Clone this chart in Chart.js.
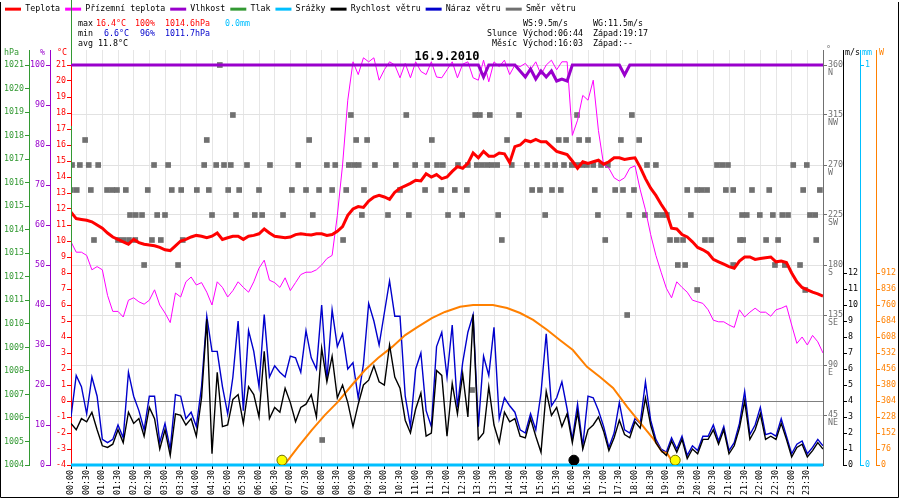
<!DOCTYPE html>
<html>
<head>
<meta charset="utf-8">
<script src="https://cdn.jsdelivr.net/npm/chart.js@4.4.0/dist/chart.umd.min.js"></script>
<style>
  html, body { margin: 0; padding: 0; background: #fff; }
  canvas { display: block; }
</style>
</head>
<body>
<canvas id="meteo" width="900" height="500"></canvas>
<script>
// 10-minute readings, 00:00 .. 24:00 (145 values each)
const temperature = [
  11.8, 11.4, 11.35, 11.3, 11.2, 11.0, 10.8, 10.5, 10.25, 10.1,
  9.95, 9.8, 10.1, 9.9, 9.8, 9.75, 9.7, 9.6, 9.45, 9.4,
  9.7, 10.0, 10.1, 10.25, 10.35, 10.3, 10.2, 10.3, 10.5, 10.1,
  10.2, 10.3, 10.3, 10.1, 10.3, 10.35, 10.45, 10.75, 10.5, 10.3,
  10.25, 10.2, 10.25, 10.4, 10.45, 10.4, 10.38, 10.45, 10.45, 10.35,
  10.4, 10.6, 10.9, 11.6, 12.0, 12.15, 12.1, 12.5, 12.75, 12.85,
  12.75, 12.6, 13.05, 13.3, 13.45, 13.6, 13.8, 13.75, 14.2, 14.0,
  14.15, 13.9, 14.0, 14.35, 14.65, 14.55, 14.85, 15.5, 15.2, 15.6,
  15.3, 15.3, 15.5, 15.45, 14.9, 15.9, 16.0, 16.3, 16.2, 16.35,
  16.2, 16.2, 15.9, 15.6, 15.5, 15.4, 15.0, 14.55, 14.95, 14.85,
  14.95, 15.05, 14.8, 14.95, 15.2, 15.2, 15.1, 15.15, 15.2, 14.6,
  13.9, 13.3, 12.85, 12.3, 11.8, 10.8, 10.75, 10.4, 10.25, 9.95,
  9.6, 9.45, 9.25, 8.85, 8.7, 8.55, 8.4, 8.3, 8.75, 9.0,
  9.0, 8.85, 8.9, 8.95, 9.0, 8.7, 8.75, 8.65, 8.0, 7.45,
  7.1, 6.95, 6.8, 6.7, 6.55
];
const groundTemp = [
  9.95, 9.3, 9.3, 9.1, 8.2, 8.4, 8.2, 6.6, 5.6, 5.6,
  5.25, 6.3, 6.45, 6.2, 6.05, 6.3, 6.95, 6.0, 5.5, 4.9,
  6.75, 6.5, 7.45, 7.75, 7.25, 7.4, 6.8, 6.0, 7.45, 7.1,
  6.5, 6.9, 7.45, 7.1, 6.8, 7.45, 8.3, 8.8, 7.55, 7.4,
  7.1, 7.7, 6.9, 7.4, 7.9, 8.05, 8.05, 8.2, 8.5, 8.9,
  9.1, 11.6, 14.75, 18.8, 21.2, 20.4, 21.45, 21.2, 21.45, 20.05,
  20.7, 21.2, 21.0, 20.2, 21.1, 20.2, 21.2, 20.6, 20.4, 21.2,
  20.25, 20.2, 20.7, 21.2, 20.2, 21.05, 21.2, 20.2, 20.05, 21.3,
  19.95, 21.2, 20.9, 21.3, 20.4, 21.0, 20.9, 21.1, 20.7, 21.2,
  20.4, 21.0, 21.3, 20.7, 21.2, 21.2, 16.6, 17.55, 19.1, 18.8,
  20.05, 16.9, 14.75, 14.55, 13.95, 13.75, 13.95, 14.55, 14.7, 13.2,
  11.95, 10.4, 9.1, 8.05, 7.05, 6.45, 7.45, 7.1, 6.8, 6.3,
  6.2, 6.1, 5.7, 5.05, 4.95, 4.95, 4.75, 4.6, 5.7, 5.25,
  5.55, 5.8, 5.55, 5.55, 5.3, 5.7, 5.8, 5.95, 4.75, 3.6,
  4.0, 3.5, 4.1, 3.7, 3.0
];
const humidity = [
  100, 100, 100, 100, 100, 100, 100, 100, 100, 100,
  100, 100, 100, 100, 100, 100, 100, 100, 100, 100,
  100, 100, 100, 100, 100, 100, 100, 100, 100, 100,
  100, 100, 100, 100, 100, 100, 100, 100, 100, 100,
  100, 100, 100, 100, 100, 100, 100, 100, 100, 100,
  100, 100, 100, 100, 100, 100, 100, 100, 100, 100,
  100, 100, 100, 100, 100, 100, 100, 100, 100, 100,
  100, 100, 100, 100, 100, 100, 100, 100, 100, 97,
  100, 100, 100, 100, 100, 100, 98.5, 97, 99, 96.5,
  98.5, 97, 98.5, 96, 96.5, 96, 100, 100, 100, 100,
  100, 100, 100, 100, 100, 100, 97.5, 100, 100, 100,
  100, 100, 100, 100, 100, 100, 100, 100, 100, 100,
  100, 100, 100, 100, 100, 100, 100, 100, 100, 100,
  100, 100, 100, 100, 100, 100, 100, 100, 100, 100,
  100, 100, 100, 100, 100
];
const windSpeed = [
  2.6, 2.2, 2.9, 2.7, 3.3, 2.2, 1.2, 1.1, 1.3, 2.2,
  1.4, 3.3, 2.6, 2.9, 1.8, 3.6, 2.9, 1.0, 2.2, 0.6,
  3.2, 3.1, 2.5, 2.9, 1.8, 4.2, 9.1, 0.7, 5.8, 2.4,
  2.5, 4.1, 4.4, 2.6, 4.9, 4.4, 3.0, 7.1, 2.9, 3.6,
  3.3, 4.8, 3.9, 2.7, 3.6, 3.8, 4.4, 3.0, 7.3, 5.2,
  6.8, 4.2, 5.0, 3.9, 2.4, 3.8, 5.0, 5.3, 6.2, 5.2,
  5.0, 7.5, 5.5, 4.8, 2.8, 2.0, 3.5, 4.5, 1.8, 2.0,
  5.9, 5.6, 1.8, 5.1, 3.2, 5.7, 3.0, 9.4, 1.6, 2.0,
  4.9, 2.5, 1.4, 3.3, 2.7, 2.9, 1.8, 1.7, 2.9, 1.8,
  0.8, 4.6, 3.1, 3.6, 2.4, 3.2, 1.4, 3.3, 1.0, 2.2,
  2.5, 3.0, 2.1, 0.9, 1.7, 2.8, 1.9, 1.7, 2.7, 2.3,
  4.2, 2.5, 1.4, 0.9, 0.6, 1.5, 0.8, 1.6, 0.4, 1.0,
  0.7, 1.6, 1.6, 2.2, 1.3, 2.2, 0.7, 1.2, 2.3, 4.0,
  1.6, 2.2, 3.2, 1.6, 1.8, 1.6, 2.6, 1.6, 0.5, 1.1,
  1.3, 0.5, 0.9, 1.4, 1.0
];
const windGust = [
  3.0, 5.6, 4.9, 3.2, 5.5, 4.3, 1.6, 1.4, 1.6, 2.5,
  1.7, 5.8, 4.3, 3.4, 2.2, 4.3, 4.3, 1.4, 2.6, 1.0,
  4.4, 4.3, 2.9, 3.3, 2.4, 4.9, 9.3, 7.1, 7.1, 4.9,
  3.2, 5.5, 9.0, 3.4, 8.4, 7.1, 4.9, 9.4, 5.5, 6.2,
  5.8, 5.5, 6.8, 6.7, 5.8, 8.4, 6.7, 6.0, 10.0, 5.3,
  9.7, 7.4, 8.2, 6.0, 6.4, 4.2, 6.3, 10.1, 9.0, 7.5,
  9.5, 11.5, 9.3, 9.3, 4.3, 2.4, 6.0, 7.0, 3.4, 2.4,
  7.4, 8.3, 5.5, 8.75, 3.6, 6.4, 8.3, 9.4, 2.4, 6.8,
  5.6, 8.6, 2.9, 4.2, 3.7, 3.3, 2.2, 2.0, 3.2, 2.2,
  4.5, 8.2, 3.7, 4.2, 5.2, 3.5, 1.6, 3.8, 1.2, 4.3,
  4.2, 3.4, 2.4, 1.1, 2.0, 3.9, 2.2, 2.0, 2.9, 2.6,
  5.2, 2.8, 1.6, 1.0, 0.8, 1.7, 1.0, 1.8, 0.6, 1.2,
  0.9, 1.8, 1.8, 2.5, 1.5, 2.4, 0.9, 1.4, 2.6, 4.6,
  1.9, 2.5, 3.6, 1.9, 2.0, 1.8, 2.9, 1.8, 0.7, 1.3,
  1.5, 0.7, 1.1, 1.6, 1.2
];

// solar radiation (W), minutes after midnight
const radMinutes = [404, 410, 435, 461, 486, 511, 538, 563, 588, 615, 640, 664, 691, 716, 745, 770,
  808, 835, 860, 885, 912, 936, 961, 988, 1013, 1038, 1065, 1090, 1114, 1132, 1141, 1153, 1157];
const radiation = [0, 5, 86, 166, 237, 300, 380, 451, 508, 561, 617, 656, 698, 727, 752, 760,
  760, 746, 722, 689, 641, 594, 546, 466, 418, 366, 276, 200, 128, 62, 57, 10, 0];

// rain (mm) - nothing fell
const rainMinutes = [0, 1440];
const rain = [0, 0];

// pressure - no readings drawn in the reference
const pressureMinutes = [];
const pressure = [];

// wind direction readings, grouped by direction (degrees) -> minutes
const dirDegrees = [360, 315, 292.5, 270, 247.5, 225, 202.5, 180, 157.5, 135, 67.5, 22.5];
const dirMinutes = [
  [285],
  [310, 536, 642, 774, 783, 802, 858, 969, 1074],
  [27, 260, 456, 546, 567, 691, 835, 934, 948, 973, 990, 1053, 1088],
  [2, 17, 34, 52, 159, 186, 255, 278, 293, 306, 337, 381, 435, 490, 506, 532, 542, 551, 582, 622,
   659, 682, 701, 712, 741, 760, 777, 787, 797, 806, 816, 844, 873, 892, 912, 927, 944, 959, 969,
   979, 988, 1000, 1015, 1028, 1103, 1120, 1237, 1247, 1258, 1383, 1409],
  [0, 11, 38, 69, 79, 88, 105, 147, 193, 211, 241, 264, 301, 322, 360, 423, 450, 475, 500, 527,
   561, 630, 678, 709, 735, 758, 883, 898, 921, 938, 1003, 1042, 1057, 1078, 1180, 1199, 1208,
   1218, 1254, 1268, 1304, 1337, 1402, 1434],
  [113, 124, 136, 165, 180, 270, 316, 352, 366, 406, 463, 557, 607, 647, 722, 749, 818, 908, 1009,
   1069, 1099, 1122, 1132, 1141, 1187, 1285, 1294, 1319, 1344, 1362, 1373, 1415, 1425],
  [44, 90, 100, 111, 123, 155, 172, 214, 521, 825, 1023, 1147, 1160, 1172, 1214, 1226, 1281, 1287,
   1331, 1354, 1427],
  [140, 205, 1162, 1176, 1268, 1348, 1367, 1396],
  [1199, 1406],
  [1065],
  [768],
  [481]
];

// sunrise / sunset and moonrise
const sunMinutes = [404, 1157];
const moonMinutes = [963];

// tick labels
const timeLabels = ['00:00', '00:30', '01:00', '01:30', '02:00', '02:30', '03:00', '03:30', '04:00', '04:30',
  '05:00', '05:30', '06:00', '06:30', '07:00', '07:30', '08:00', '08:30', '09:00', '09:30',
  '10:00', '10:30', '11:00', '11:30', '12:00', '12:30', '13:00', '13:30', '14:00', '14:30',
  '15:00', '15:30', '16:00', '16:30', '17:00', '17:30', '18:00', '18:30', '19:00', '19:30',
  '20:00', '20:30', '21:00', '21:30', '22:00', '22:30', '23:00', '23:30'];
const tempTicks = [-4, -3, -2, -1, 0, 1, 2, 3, 4, 5, 6, 7, 8, 9, 10, 11, 12, 13, 14, 15, 16, 17, 18, 19, 20, 21];
const humTicks = [0, 10, 20, 30, 40, 50, 60, 70, 80, 90, 100];
const pressTicks = [1004, 1005, 1006, 1007, 1008, 1009, 1010, 1011, 1012, 1013, 1014, 1015, 1016, 1017, 1018, 1019, 1020, 1021];
const dirTicks = [45, 90, 135, 180, 225, 270, 315, 360];
const dirNames = ['NE', 'E', 'SE', 'S', 'SW', 'W', 'NW', 'N'];
const windTicks = [0, 1, 2, 3, 4, 5, 6, 7, 8, 9, 10, 11, 12];
const rainTicks = [0, 1];
const radTicks = [0, 76, 152, 228, 304, 380, 456, 532, 608, 684, 760, 836, 912];

const RED = '#ff0000', MAGENTA = '#ff00ff', PURPLE = '#9900cc', GREEN = '#339933';
const CYAN = '#00bfff', BLUE = '#0000cc', ORANGE = '#ff8000', GRAY = '#707070';
const FONT = '"DejaVu Sans Mono", "Liberation Mono", monospace';
const FS = 8.3;

Chart.defaults.font.family = FONT;
Chart.defaults.font.size = FS;
Chart.defaults.color = '#000';

const slots = temperature.map((_, i) => i * 10);
function toPoints(minutes, values) {
  return values.map((v, i) => ({ x: minutes[i], y: v }));
}
const dirPoints = [];
dirDegrees.forEach((deg, r) => dirMinutes[r].forEach(m => dirPoints.push({ x: m, y: deg })));
const markerLevel = 0.3; // m/s, just above the time axis

function yAxis(o) {
  return {
    type: 'linear',
    position: o.position,
    weight: o.weight,
    min: o.min,
    max: o.max,
    afterBuildTicks: scale => { scale.ticks = o.ticks.map(v => ({ value: v })); },
    afterFit: scale => { scale.width = o.width; },
    border: { color: o.color },
    grid: {
      drawOnChartArea: !!o.grid,
      color: o.grid || o.color,
      tickColor: o.color,
      tickLength: 4
    },
    ticks: {
      color: o.color,
      padding: 1,
      font: o.font,
      callback: o.format || (v => String(v))
    }
  };
}

// stats and captions printed above the plot
const statRuns = [
  [78, 24, 'max', '#000'], [96, 24, '16.4°C', RED], [135, 24, '100%', RED], [165, 24, '1014.6hPa', RED], [225, 24, '0.0mm', CYAN],
  [78, 34, 'min', '#000'], [104, 34, '6.6°C', BLUE], [140, 34, '96%', BLUE], [165, 34, '1011.7hPa', BLUE],
  [78, 44, 'avg 11.8°C', '#000'],
  [523, 24, 'WS:9.5m/s', '#000'], [593, 24, 'WG:11.5m/s', '#000'],
  [487, 34, 'Slunce', '#000'], [523, 34, 'Východ:06:44', '#000'], [593, 34, 'Západ:19:17', '#000'],
  [492, 44, 'Měsíc', '#000'], [523, 44, 'Východ:16:03', '#000'], [593, 44, 'Západ:--', '#000']
];
const axisTitles = [
  [4, 53, 'hPa', GREEN], [40, 53, '%', PURPLE], [57, 53, '°C', RED],
  [826, 50, '°', GRAY], [845, 53, 'm/s', '#000'], [862, 53, 'mm', CYAN], [879, 53, 'W', ORANGE]
];

const decor = {
  id: 'decor',
  afterInit(chart) {
    // leave room under the legend for the stats block
    const legend = chart.legend;
    const fit = legend.fit;
    legend.fit = function () { fit.call(this); this.height = 50; };
  },
  afterDraw(chart) {
    const { ctx, chartArea } = chart;
    ctx.save();
    // green line along the left plot edge
    ctx.strokeStyle = GREEN;
    ctx.lineWidth = 1;
    ctx.beginPath();
    ctx.moveTo(chartArea.left + 0.5, 0); ctx.lineTo(chartArea.left + 0.5, 64);
    ctx.moveTo(chartArea.left + 0.5, 126); ctx.lineTo(chartArea.left + 0.5, 252);
    ctx.stroke();

    ctx.font = `${FS}px ${FONT}`;
    ctx.textBaseline = 'middle';
    ctx.textAlign = 'left';
    statRuns.concat(axisTitles).forEach(([x, y, text, color]) => {
      ctx.fillStyle = color;
      ctx.fillText(text, x, y);
    });

    ctx.font = `bold 12px ${FONT}`;
    ctx.textAlign = 'center';
    ctx.fillStyle = '#000';
    ctx.fillText('16.9.2010', (chartArea.left + chartArea.right) / 2, 57);

    // frame
    ctx.strokeStyle = '#000';
    ctx.beginPath();
    ctx.moveTo(0.5, 2); ctx.lineTo(0.5, 497.5); ctx.lineTo(898.5, 497.5); ctx.lineTo(898.5, 2);
    ctx.stroke();
    ctx.restore();
  }
};

new Chart(document.getElementById('meteo'), {
  type: 'line',
  data: {
    datasets: [
      { label: 'Teplota', data: toPoints(slots, temperature), yAxisID: 'yT',
        borderColor: RED, backgroundColor: RED, borderWidth: 3, order: 0 },
      { label: 'Přízemní teplota', data: toPoints(slots, groundTemp), yAxisID: 'yT',
        borderColor: MAGENTA, backgroundColor: MAGENTA, borderWidth: 1, order: 2 },
      { label: 'Vlhkost', data: toPoints(slots, humidity), yAxisID: 'yH',
        borderColor: PURPLE, backgroundColor: PURPLE, borderWidth: 3, order: 1 },
      { label: 'Tlak', data: toPoints(pressureMinutes, pressure), yAxisID: 'yP',
        borderColor: GREEN, backgroundColor: GREEN, borderWidth: 2, order: 9 },
      { label: 'Srážky', data: toPoints(rainMinutes, rain), yAxisID: 'yR',
        borderColor: CYAN, backgroundColor: CYAN, borderWidth: 3, clip: 4, order: 8 },
      { label: 'Rychlost větru', data: toPoints(slots, windSpeed), yAxisID: 'yS',
        borderColor: '#000', backgroundColor: '#000', borderWidth: 1.4, order: 3 },
      { label: 'Náraz větru', data: toPoints(slots, windGust), yAxisID: 'yS',
        borderColor: BLUE, backgroundColor: BLUE, borderWidth: 1.4, order: 5 },
      { label: 'Směr větru', data: dirPoints, yAxisID: 'yD', showLine: false,
        borderColor: GRAY, backgroundColor: GRAY, pointStyle: 'rect', pointRadius: 4,
        pointBorderWidth: 0, order: 7 },
      { label: 'Sluneční svit', data: toPoints(radMinutes, radiation), yAxisID: 'yW',
        borderColor: ORANGE, backgroundColor: ORANGE, borderWidth: 2, order: 4 },
      { label: 'Slunce', data: sunMinutes.map(m => ({ x: m, y: markerLevel })), yAxisID: 'yS',
        showLine: false, pointRadius: 5, backgroundColor: '#ffff00', borderColor: '#6b6b00',
        pointBorderWidth: 1, order: -1 },
      { label: 'Měsíc', data: moonMinutes.map(m => ({ x: m, y: markerLevel })), yAxisID: 'yS',
        showLine: false, pointRadius: 5, backgroundColor: '#000', borderColor: '#000',
        pointBorderWidth: 1, order: -1 }
    ]
  },
  options: {
    responsive: false,
    animation: false,
    devicePixelRatio: 1,
    layout: { padding: 0 },
    elements: { point: { radius: 0 }, line: { tension: 0 } },
    plugins: {
      tooltip: { enabled: false },
      legend: {
        position: 'top',
        align: 'start',
        labels: {
          boxWidth: 16,
          boxHeight: 3,
          padding: 5,
          color: '#000',
          font: { size: FS, family: FONT },
          filter: item => item.datasetIndex < 8,
          sort: (a, b) => a.datasetIndex - b.datasetIndex,
          generateLabels(chart) {
            return Chart.defaults.plugins.legend.labels.generateLabels(chart).map(item => {
              const ds = chart.data.datasets[item.datasetIndex];
              item.fillStyle = ds.borderColor;
              item.strokeStyle = ds.borderColor;
              item.lineWidth = 0;
              return item;
            });
          }
        }
      }
    },
    scales: {
      x: {
        type: 'linear',
        min: 0,
        max: 1440,
        afterBuildTicks: scale => { scale.ticks = timeLabels.map((_, i) => ({ value: i * 30 })); },
        afterFit: scale => { scale.height = 35; },
        border: { display: false },
        grid: { color: '#e6e6e6', tickColor: '#000', tickLength: 4 },
        ticks: {
          autoSkip: false,
          minRotation: 90,
          maxRotation: 90,
          padding: 1,
          color: '#000',
          callback: v => timeLabels[v / 30]
        }
      },
      yT: yAxis({ position: 'left', weight: 0, width: 21, color: RED, min: -4, max: 21.9375, ticks: tempTicks,
        grid: c => (c.tick && c.tick.value === 0 ? '#808080' : 'rgba(0,0,0,0)') }),
      yH: yAxis({ position: 'left', weight: 1, width: 21, color: PURPLE, min: 0, max: 103.75, ticks: humTicks }),
      yP: yAxis({ position: 'left', weight: 2, width: 29, color: GREEN, min: 1004, max: 1021.6375, ticks: pressTicks }),
      yD: yAxis({ position: 'right', weight: 0, width: 20, color: GRAY, min: 0, max: 373.5, ticks: dirTicks,
        grid: '#e2e2e2', font: { size: FS, lineHeight: 1 },
        format: v => ['', String(v), dirNames[dirTicks.indexOf(v)]] }),
      yS: yAxis({ position: 'right', weight: 1, width: 17, color: '#000', min: 0, max: 25.9375, ticks: windTicks }),
      yR: yAxis({ position: 'right', weight: 2, width: 16, color: CYAN, min: 0, max: 1.0375, ticks: rainTicks }),
      yW: yAxis({ position: 'right', weight: 3, width: 24, color: ORANGE, min: 0, max: 1971.25, ticks: radTicks })
    }
  },
  plugins: [decor]
});
</script>
</body>
</html>
